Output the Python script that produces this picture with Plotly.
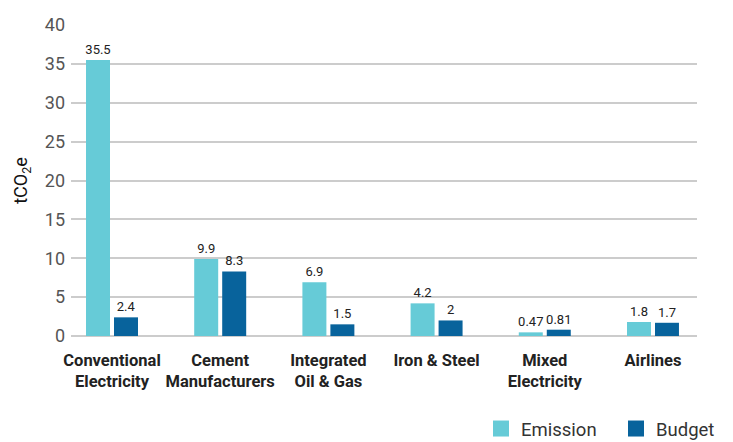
import plotly.graph_objects as go

categories = ["Conventional<br>Electricity", "Cement<br>Manufacturers", "Integrated<br>Oil & Gas",
              "Iron & Steel", "Mixed<br>Electricity", "Airlines"]
emission = [35.5, 9.9, 6.9, 4.2, 0.47, 1.8]
budget = [2.4, 8.3, 1.5, 2, 0.81, 1.7]
emission_labels = ["35.5", "9.9", "6.9", "4.2", "0.47", "1.8"]
budget_labels = ["2.4", "8.3", "1.5", "2", "0.81", "1.7"]
y_ticks = [0, 5, 10, 15, 20, 25, 30, 35, 40]

EMISSION_COLOR = "#66CBD7"
BUDGET_COLOR = "#08639C"
FONT = "Roboto"

x_idx = list(range(len(categories)))

fig = go.Figure()
for vals, labels, name, color in [(emission, emission_labels, "Emission", EMISSION_COLOR),
                                  (budget, budget_labels, "Budget", BUDGET_COLOR)]:
    fig.add_trace(go.Bar(
        x=x_idx, y=vals, name=name, marker_color=color,
        marker_line_width=0, text=labels, textposition="outside",
        textfont=dict(size=13, color="#222222", family=FONT),
        constraintext="none", cliponaxis=False, showlegend=False,
    ))

# legend entries with larger square swatches
for name, color in [("Emission", EMISSION_COLOR), ("Budget", BUDGET_COLOR)]:
    fig.add_trace(go.Scatter(
        x=[None], y=[None], mode="markers", name=name,
        marker=dict(symbol="square", size=16, color=color),
    ))

fig.update_layout(
    width=733, height=442,
    margin=dict(l=71, r=36, t=25, b=106, autoexpand=False),
    paper_bgcolor="white", plot_bgcolor="white",
    font=dict(family=FONT, color="#333333"),
    barmode="group", bargap=0.4825, bargroupgap=0.143,
    legend=dict(
        orientation="h", xref="container", x=481 / 733, xanchor="left",
        yref="container", y=1 - 429 / 442, yanchor="middle",
        font=dict(size=18.5, color="#333333", family=FONT),
        entrywidth=90, entrywidthmode="pixels", traceorder="normal",
    ),
    xaxis=dict(
        range=[-0.379, 5.407], tickmode="array", tickvals=x_idx,
        ticktext=[f"<b>{c}</b>" for c in categories],
        tickfont=dict(size=16.5, color="#222222", family=FONT),
        showgrid=False, zeroline=False, showline=False, ticks="",
        ticklabelstandoff=12, fixedrange=True,
    ),
    yaxis=dict(
        range=[0, 40], tickmode="array", tickvals=y_ticks,
        tickfont=dict(size=18, color="#555555", family=FONT),
        showgrid=True, gridcolor="#CCCCCC", gridwidth=1.5,
        zeroline=True, zerolinecolor="#CCCCCC", zerolinewidth=1.5,
        showline=False, ticks="", ticklabelstandoff=5,
        title=dict(text="tCO<sub>2</sub>e", font=dict(size=18, color="#111111", family=FONT), standoff=12),
    ),
)

fig.write_html("out.html")
